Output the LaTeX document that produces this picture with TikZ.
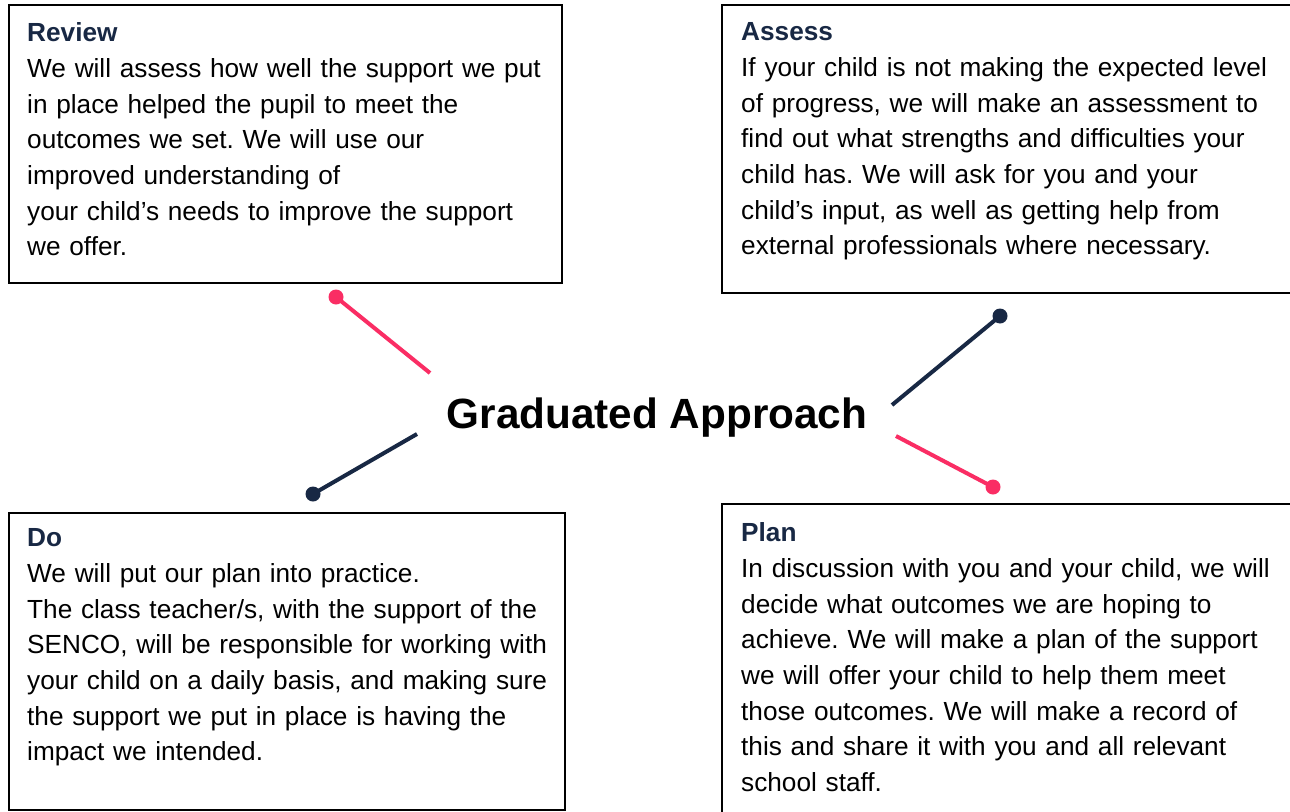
\documentclass[tikz,border=0pt]{standalone}
\usepackage{fontspec}
\setmainfont{Liberation Sans}
\frenchspacing
\definecolor{navy}{RGB}{24,40,68}
\definecolor{pinkc}{RGB}{250,45,100}
\begin{document}
\begin{tikzpicture}[x=1pt,y=-1pt,
  box/.style={draw=black, line width=2pt, anchor=north west, inner sep=0pt},
  body/.style={anchor=north west, inner sep=0pt, align=left, text width=560pt,
    font=\fontsize{26.2}{35.7}\selectfont\frenchspacing},
  link/.style={line width=4pt},
  dotend/.style={circle, inner sep=0pt, minimum size=15pt}]
\useasboundingbox (0,0) rectangle (1290,811);
\clip (0,0) rectangle (1290,811);
\fill[white] (0,0) rectangle (1290,811);

% boxes
\node[box, minimum width=553pt, minimum height=278pt] (review) at (8,4) {};
\node[box, minimum width=600pt, minimum height=288pt] (assess) at (721,4) {};
\node[box, minimum width=556pt, minimum height=297pt] (do) at (8,512) {};
\node[box, minimum width=600pt, minimum height=330pt] (plan) at (721,503) {};

% texts
\node[body] (reviewtext) at (27,22.5) {{\bfseries\color{navy}Review}\\
We will assess how well the support we put\\
in place helped the pupil to meet the\\
outcomes we set. We will use our\\
improved understanding of\\
your child’s needs to improve the support\\
we offer.};

\node[body] (assesstext) at (741,22.5) {{\bfseries\color{navy}Assess}\\
If your child is not making the expected level\\
of progress, we will make an assessment to\\
find out what strengths and difficulties your\\
child has. We will ask for you and your\\
child’s input, as well as getting help from\\
external professionals where necessary.};

\node[body] (dotext) at (27,528.5) {{\bfseries\color{navy}Do}\\
We will put our plan into practice.\\
The class teacher/s, with the support of the\\
SENCO, will be responsible for working with\\
your child on a daily basis, and making sure\\
the support we put in place is having the\\
impact we intended.};

\node[body] (plantext) at (741,522.5) {{\bfseries\color{navy}Plan}\\
In discussion with you and your child, we will\\
decide what outcomes we are hoping to\\
achieve. We will make a plan of the support\\
we will offer your child to help them meet\\
those outcomes. We will make a record of\\
this and share it with you and all relevant\\
school staff.};

% centre
\node[anchor=base, inner sep=0pt, font=\bfseries\fontsize{42.3}{50}\selectfont] (centre) at (657,428) {Graduated Approach};

% connectors
\coordinate (rvstart) at (430,373);
\coordinate (asstart) at (892,405);
\coordinate (plstart) at (896,436);
\coordinate (dostart) at (417,434);
\node[dotend, fill=pinkc] (rvdot) at (336,297) {};
\node[dotend, fill=navy] (asdot) at (1000,316) {};
\node[dotend, fill=pinkc] (pldot) at (993,487) {};
\node[dotend, fill=navy] (dodot) at (313,494) {};
\draw[link, pinkc] (rvstart) -- (rvdot.center);
\draw[link, navy] (asstart) -- (asdot.center);
\draw[link, pinkc] (plstart) -- (pldot.center);
\draw[link, navy] (dostart) -- (dodot.center);
\end{tikzpicture}
\end{document}
